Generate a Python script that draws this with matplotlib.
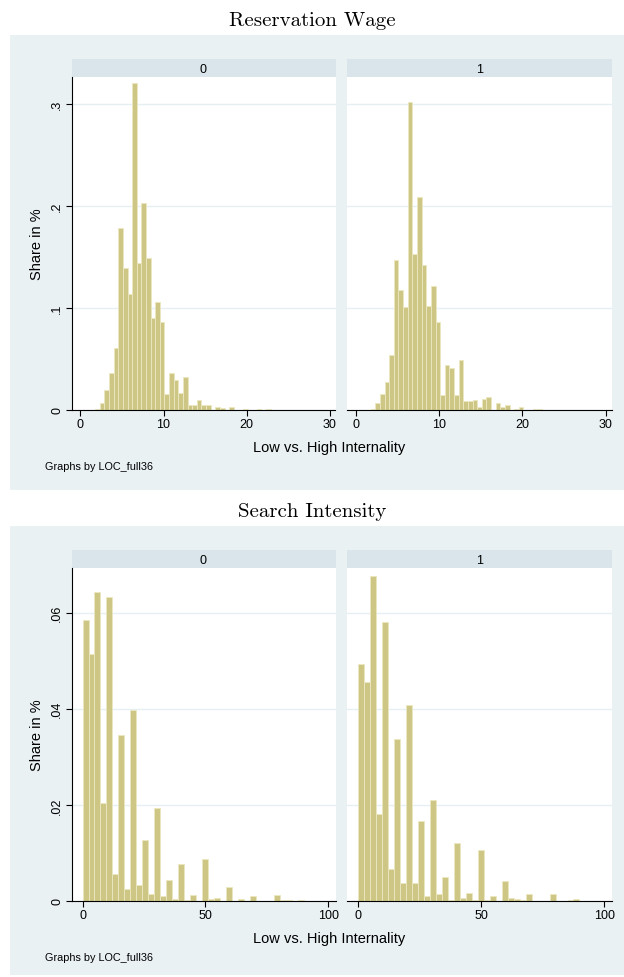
import numpy as np
import matplotlib
matplotlib.use("Agg")
import matplotlib.pyplot as plt
from matplotlib.patches import Rectangle

# ---- data (share per bin) ----
groups = ["0", "1"]

res_start = 1.77
res_width = 0.556
res_low = [0.001, 0.0066, 0.020, 0.036, 0.061, 0.178, 0.139, 0.114, 0.320, 0.144,
           0.203, 0.149, 0.090, 0.106, 0.086, 0.016, 0.036, 0.029, 0.017, 0.032,
           0.005, 0.005, 0.010, 0.005, 0.005, 0.0, 0.003, 0.002, 0.0, 0.003,
           0.0, 0.0, 0.001, 0.0, 0.0, 0.001, 0.0, 0.001]
res_high = [0.001, 0.0066, 0.016, 0.027, 0.054, 0.147, 0.117, 0.101, 0.302, 0.153,
            0.209, 0.142, 0.102, 0.121, 0.086, 0.015, 0.044, 0.041, 0.015, 0.049,
            0.009, 0.009, 0.010, 0.003, 0.011, 0.013, 0.0, 0.007, 0.003, 0.005,
            0.0, 0.001, 0.003, 0.0, 0.0, 0.001, 0.001, 0.0]

search_start = 0.0
search_width = 2.432
search_low = [0.0585, 0.0515, 0.0644, 0.0203, 0.0632, 0.0056, 0.0346, 0.0024, 0.0397, 0.0033,
              0.0127, 0.0015, 0.0194, 0.0010, 0.0043, 0.0004, 0.0078, 0.0002, 0.0013, 0.0001,
              0.0087, 0.0004, 0.0007, 0.0, 0.0029, 0.0001, 0.0004, 0.0, 0.0010, 0.0001,
              0.0001, 0.0, 0.0013, 0.0002, 0.0002, 0.0, 0.0002]
search_high = [0.0493, 0.0455, 0.0677, 0.0181, 0.0581, 0.0066, 0.0337, 0.0037, 0.0408, 0.0038,
               0.0167, 0.0010, 0.0210, 0.0015, 0.0049, 0.0003, 0.0120, 0.0006, 0.0017, 0.0003,
               0.0106, 0.0003, 0.0010, 0.0, 0.0042, 0.0006, 0.0005, 0.0003, 0.0015, 0.0,
               0.0, 0.0, 0.0015, 0.0, 0.0, 0.0002, 0.0004]

res_xticks = [0, 10, 20, 30]
res_yticks = [0, 0.1, 0.2, 0.3]
res_ylabels = ["0", ".1", ".2", ".3"]
search_xticks = [0, 50, 100]
search_yticks = [0, 0.02, 0.04, 0.06]
search_ylabels = ["0", ".02", ".04", ".06"]

# ---- style ----
W, H = 624, 978
bg = "#eaf1f3"
strip_col = "#d9e5ea"
bar_col = "#cdc685"
bar_edge = "#ebe7c0"
grid_col = "#e6eff1"

plt.rcParams["font.family"] = ["Liberation Sans", "DejaVu Sans"]

fig = plt.figure(figsize=(W / 100, H / 100), dpi=100)
fig.patch.set_facecolor("white")


def box(x0, y0, x1, y1):
    return [x0 / W, 1 - y1 / H, (x1 - x0) / W, (y1 - y0) / H]


def px(x, y):
    return x / W, 1 - y / H


def draw_block(top, bottom, title, start, width, series, xlim, ylim, xticks, yticks, ylabels):
    # light background region behind the pair of panels
    fig.patches.append(Rectangle((10 / W, 1 - bottom / H), (W - 10) / W, (bottom - top) / H,
                                 transform=fig.transFigure, facecolor=bg, edgecolor="none",
                                 zorder=-5))
    fig.text(*px(312, top - 15), title, fontname="cmr10", fontsize=15,
             ha="center", va="center")

    s_top = top + 24
    a_top = s_top + 18
    a_bot = a_top + 333
    for k, (x0, x1) in enumerate([(71.5, 335.5), (347, 611.5)]):
        strip = fig.add_axes(box(x0, s_top, x1, a_top))
        strip.set_facecolor(strip_col)
        strip.set_xticks([])
        strip.set_yticks([])
        for sp in strip.spines.values():
            sp.set_visible(False)
        strip.text(0.5, 0.45, groups[k], ha="center", va="center", fontsize=9)

        ax = fig.add_axes(box(x0, a_top, x1, a_bot))
        heights = series[k]
        edges = start + width * np.arange(len(heights))
        ax.bar(edges, heights, width=width, align="edge", color=bar_col,
               edgecolor=bar_edge, linewidth=0.6, zorder=2)
        ax.set_xlim(*xlim)
        ax.set_ylim(*ylim)
        ax.set_xticks(xticks)
        ax.set_xticklabels([str(t) for t in xticks], fontsize=9)
        ax.set_yticks(yticks)
        ax.grid(axis="y", color=grid_col, linewidth=1, zorder=0)
        ax.set_axisbelow(True)
        ax.spines["top"].set_visible(False)
        ax.spines["right"].set_visible(False)
        ax.spines["bottom"].set_linewidth(0.8)
        ax.tick_params(axis="x", length=4, width=0.8, pad=2)
        if k == 0:
            ax.set_yticklabels(ylabels, fontsize=9, rotation=90, va="center")
            ax.tick_params(axis="y", length=4, width=0.8, pad=2)
            ax.spines["left"].set_linewidth(0.8)
            ax.set_ylabel("Share in %", fontsize=10.5, labelpad=5)
        else:
            ax.spines["left"].set_visible(False)
            ax.tick_params(axis="y", length=0, labelleft=False)

    fig.text(*px(329, a_bot + 37), "Low vs. High Internality", ha="center", va="center",
             fontsize=10.5)
    fig.text(*px(45, a_bot + 56), "Graphs by LOC_full36", ha="left", va="center",
             fontsize=7.8)


draw_block(36, 491, "Reservation Wage", res_start, res_width, [res_low, res_high],
           (-1.08, 30.7), (0, 0.326), res_xticks, res_yticks, res_ylabels)
draw_block(527, 976, "Search Intensity", search_start, search_width, [search_low, search_high],
           (-4.5, 103.0), (0, 0.0693), search_xticks, search_yticks, search_ylabels)

fig.savefig("out.png", dpi=100)
